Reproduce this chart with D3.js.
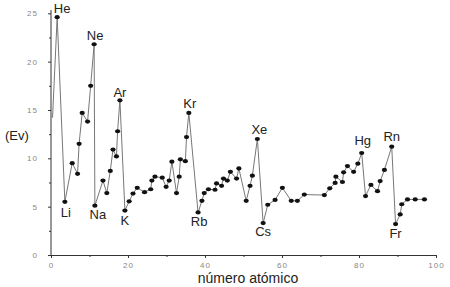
<!DOCTYPE html>
<html>
<head>
<meta charset="UTF-8">
<title>energia de ionizacion</title>
<style>
  body { margin: 0; background: #fff; }
  svg { display: block; }
  .tick text { fill: #888; font-size: 8px; letter-spacing: 1px; font-family: "Liberation Sans", Arial, sans-serif; }
  .tick line, .domain { stroke: #333; }
  text.sym { font-family: "Liberation Sans", Arial, sans-serif; font-size: 13px; fill: #222; text-anchor: middle; }
</style>
</head>
<body>
<svg id="chart" width="450" height="287"></svg>
<script src="https://d3js.org/d3.v7.min.js"></script>
<script>
// atomic number position and ionization energy (eV)
var zVals = [0.4, 1.6, 3.6, 5.5, 6.9, 7.3, 8.1, 9.5, 10.3, 11.2, 11.4, 13.5, 14.5, 15.4, 16.1, 17.0, 17.3, 17.9,
  19.2, 20.3, 21.3, 22.4, 24.3, 25.9, 26.2, 27.0, 28.9, 29.9, 30.7, 31.4, 32.6, 33.3, 33.6, 34.9, 35.2, 35.8,
  38.2, 39.2, 39.8, 40.9, 42.6, 43.0, 44.3, 44.8, 45.8, 46.6, 48.2, 48.8, 50.7, 51.7, 52.3, 53.6,
  55.1, 56.3, 58.2, 60.1, 62.4, 64.0, 65.8, 71.0, 72.4, 73.8, 74.0, 75.7, 76.0, 77.0, 78.6, 79.7, 80.7,
  81.7, 83.1, 84.8, 85.5, 86.6, 88.5, 89.5, 90.7, 91.1, 92.6, 94.6, 97.0];
var evVals = [14.2, 24.6, 5.5, 9.5, 8.4, 11.5, 14.7, 13.8, 17.5, 21.8, 5.1, 7.7, 6.4, 8.7, 10.9, 10.2, 12.8, 16.0,
  4.6, 5.55, 6.35, 6.95, 6.5, 6.8, 7.7, 8.1, 8.0, 7.05, 7.7, 9.65, 6.4, 8.1, 9.9, 9.7, 12.2, 14.7,
  4.4, 5.6, 6.4, 6.8, 6.75, 7.4, 7.15, 7.9, 7.7, 8.6, 7.9, 8.95, 5.6, 7.15, 8.2, 12.0,
  3.3, 5.2, 5.7, 6.95, 5.6, 5.6, 6.25, 6.2, 6.9, 7.45, 8.1, 7.55, 8.55, 9.2, 8.6, 9.45, 10.55,
  6.1, 7.25, 6.6, 7.65, 8.8, 11.2, 3.2, 4.2, 5.25, 5.75, 5.75, 5.75];

var symbols = ["He", "Li", "Ne", "Na", "Ar", "K", "Kr", "Rb", "Xe", "Cs", "Hg", "Rn", "Fr"];
var symbolAt = [1, 2, 9, 10, 17, 18, 35, 36, 51, 52, 68, 74, 75];

var xTicks = [0, 20, 40, 60, 80, 100];
var yTicks = [0, 5, 10, 15, 20, 25];

// label offsets from its point: [dx, dy of baseline]
var labelOff = {
  He: [5, -4], Li: [1, 15], Ne: [1, -4], Na: [3, 13], Ar: [0, -3], K: [0, 14], Kr: [1, -5],
  Rb: [1, 14], Xe: [2, -5], Cs: [0, 13], Hg: [1, -8], Rn: [0, -6], Fr: [0, 14]
};

var svg = d3.select("#chart");
var x = d3.scaleLinear().domain([0, 100]).range([51, 436]);
var y = d3.scaleLinear().domain([0, 25]).range([255, 13.3]);

// minor ticks
svg.append("g")
  .attr("transform", "translate(0,255)")
  .call(d3.axisBottom(x).tickValues([10, 30, 50, 70, 90]).tickSize(2).tickFormat(""))
  .call(g => g.select(".domain").remove());
svg.append("g")
  .attr("transform", "translate(51,0)")
  .call(d3.axisLeft(y).tickValues([2.5, 7.5, 12.5, 17.5, 22.5]).tickSize(2).tickFormat(""))
  .call(g => g.select(".domain").remove());

var xAxis = svg.append("g")
  .attr("transform", "translate(0,255)")
  .call(d3.axisBottom(x).tickValues(xTicks).tickSize(3).tickSizeOuter(0).tickPadding(4));
var yAxis = svg.append("g")
  .attr("transform", "translate(51,0)")
  .call(d3.axisLeft(y).tickValues(yTicks).tickSize(3).tickSizeOuter(0).tickPadding(10));
yAxis.select(".domain").attr("d", "M0,255V10");

var pts = zVals.map((z, i) => ({ z: z, v: evVals[i] }));

svg.append("path")
  .datum(pts)
  .attr("fill", "none")
  .attr("stroke", "#777")
  .attr("stroke-width", 1)
  .attr("d", d3.line().x(d => x(d.z)).y(d => y(d.v)));

svg.append("g")
  .selectAll("ellipse")
  .data(pts.slice(1))
  .join("ellipse")
  .attr("cx", d => x(d.z))
  .attr("cy", d => y(d.v))
  .attr("rx", 2.6)
  .attr("ry", 2.1)
  .attr("fill", "#111");

svg.append("g")
  .selectAll("text")
  .data(symbols)
  .join("text")
  .attr("class", "sym")
  .attr("x", (s, i) => x(pts[symbolAt[i]].z) + labelOff[s][0])
  .attr("y", (s, i) => y(pts[symbolAt[i]].v) + labelOff[s][1])
  .text(s => s);

svg.append("text")
  .attr("x", 5).attr("y", 140)
  .attr("font-family", "Liberation Sans, Arial, sans-serif")
  .attr("font-size", 13)
  .attr("fill", "#222")
  .text("(Ev)");

svg.append("text")
  .attr("x", 248).attr("y", 283)
  .attr("text-anchor", "middle")
  .attr("font-family", "Liberation Sans, Arial, sans-serif")
  .attr("font-size", 14)
  .attr("fill", "#222")
  .text("número atómico");
</script>
</body>
</html>
